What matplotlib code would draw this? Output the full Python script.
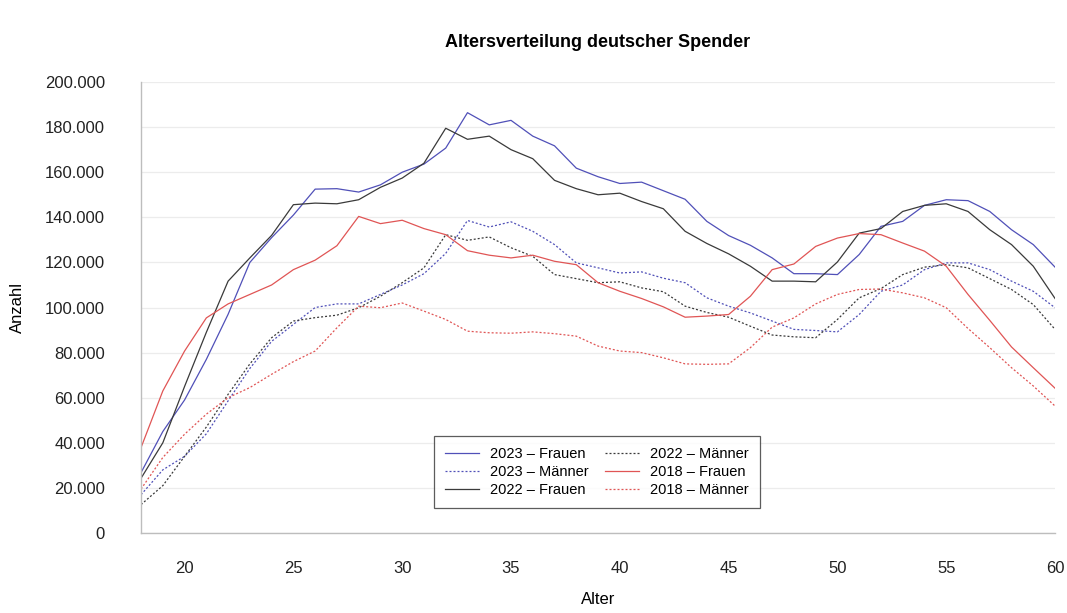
import matplotlib

matplotlib.use("Agg")
import matplotlib.pyplot as plt
from matplotlib.ticker import FuncFormatter

# ages 18..60, donor counts in thousands
ages = list(range(18, 61))

f2023 = [26.8, 45, 59, 77, 97, 120, 131, 141, 152.5,
         152.7, 151.2, 154.4, 160, 163.6, 170.7, 186.4, 181, 183,
         176, 171.7, 161.8, 158, 155, 155.6, 151.8, 148, 138.2,
         131.9, 127.6, 122, 115, 115, 114.6, 123.5, 136, 138.2,
         145.3, 147.8, 147.4, 142.6, 134.5, 127.9, 117.9]
m2023 = [17, 28, 34, 44, 58.6, 73, 85, 92.5, 100,
         101.6, 101.6, 105.8, 110, 115, 124, 138.6, 135.7, 138,
         133.8, 127.9, 119.8, 117.6, 115.3, 115.8, 113, 111, 104.3,
         100.6, 97.6, 94, 90.3, 89.8, 89.2, 96.9, 107.2, 110,
         116.8, 119.8, 119.8, 116.8, 111.7, 107.2, 99.9]
f2022 = [24.3, 40, 65, 89, 111.7, 122, 132, 145.6, 146.3,
         146, 147.8, 153.3, 157.4, 164, 179.5, 174.6, 176, 170,
         166, 156.4, 152.7, 150, 150.7, 147, 143.8, 133.8, 128.4,
         123.8, 118.3, 111.7, 111.7, 111.4, 120.2, 133, 135, 142.6,
         145.3, 146, 142.6, 134.5, 127.9, 118.3, 104]
m2022 = [12.6, 21, 34, 47, 61.5, 75, 86.6, 94, 95.5,
         96.6, 99.9, 105, 111, 117.6, 132.3, 129.8, 131.3, 126.5,
         122.7, 114.6, 112.8, 111, 111.4, 108.7, 107, 100.6, 97.8,
         95.7, 91.7, 87.8, 87, 86.6, 94.7, 104.3, 108.4, 114.6,
         117.9, 119, 117.6, 112.8, 108, 101.3, 90.3]
f2018 = [37.9, 63, 80.7, 95.4, 101.6, 105.8, 110, 116.8, 121,
         127.4, 140.4, 137.2, 138.7, 135, 132.3, 125.2, 123.2, 122,
         123.2, 120.5, 119, 111, 107.2, 104, 100.3, 95.7, 96.2,
         96.9, 105, 116.8, 119.3, 127.1, 130.8, 132.8, 132.3, 128.6,
         125, 118.3, 105.8, 94.3, 82.5, 73.3, 64.2]
m2018 = [19.5, 33.5, 43.8, 52.7, 60, 64.5, 70.4, 76, 80.7,
         91, 100.6, 99.9, 102, 98.4, 94.7, 89.5, 88.8, 88.6,
         89.2, 88.4, 87.3, 82.9, 80.7, 80, 77.7, 75, 74.8,
         75, 82.2, 91.3, 95.4, 101.6, 105.8, 108, 108.2, 106.5,
         104.3, 99.9, 90.7, 82.2, 73.3, 65.2, 56.3]

series = [
    ("2023 – Frauen", f2023, "#5050b8", "-"),
    ("2023 – Männer", m2023, "#5050b8", ":"),
    ("2022 – Frauen", f2022, "#3a3a3a", "-"),
    ("2022 – Männer", m2022, "#3a3a3a", ":"),
    ("2018 – Frauen", f2018, "#e05555", "-"),
    ("2018 – Männer", m2018, "#e05555", ":"),
]

plt.rcParams["font.family"] = ["Liberation Sans", "DejaVu Sans"]

fig = plt.figure(figsize=(10.67, 6.13), dpi=100)
ax = fig.add_axes([0.1322, 0.1305, 0.8566, 0.7357])

for label, vals, color, ls in series:
    kw = dict(dashes=(1.6, 1.6)) if ls == ":" else {}
    ax.plot(ages, [v * 1000 for v in vals], color=color, linewidth=0.9,
            linestyle="-" if ls == "-" else "--", label=label, **kw)

ax.set_xlim(18, 60)
ax.set_ylim(0, 200000)
ax.set_xticks(range(20, 61, 5))
ax.set_yticks(range(0, 200001, 20000))
ax.yaxis.set_major_formatter(FuncFormatter(lambda v, _: f"{int(v):,}".replace(",", ".")))
ax.tick_params(length=0, labelsize=12, colors="#222222")
ax.tick_params(axis="y", pad=26)
ax.tick_params(axis="x", pad=20)
ax.grid(axis="y", color="#ececec", linewidth=0.9)
ax.set_axisbelow(True)
for side in ("top", "right"):
    ax.spines[side].set_visible(False)
for side in ("left", "bottom"):
    ax.spines[side].set_color("#bdbdbd")
    ax.spines[side].set_linewidth(1.0)

ax.set_xlabel("Alter", fontsize=12, labelpad=12)
ax.set_ylabel("Anzahl", fontsize=12, labelpad=14)
fig.text(0.56, 0.93, "Altersverteilung deutscher Spender",
         ha="center", va="center", fontsize=13, fontweight="bold")

leg = ax.legend(loc="center", bbox_to_anchor=(0.499, 0.135), ncol=2,
                fontsize=10.5, frameon=True, fancybox=False,
                handlelength=2.3, columnspacing=1.1, labelspacing=0.3,
                borderpad=0.75)
leg.get_frame().set_edgecolor("#333333")
leg.get_frame().set_linewidth(0.9)

fig.savefig("out.png", dpi=100)
